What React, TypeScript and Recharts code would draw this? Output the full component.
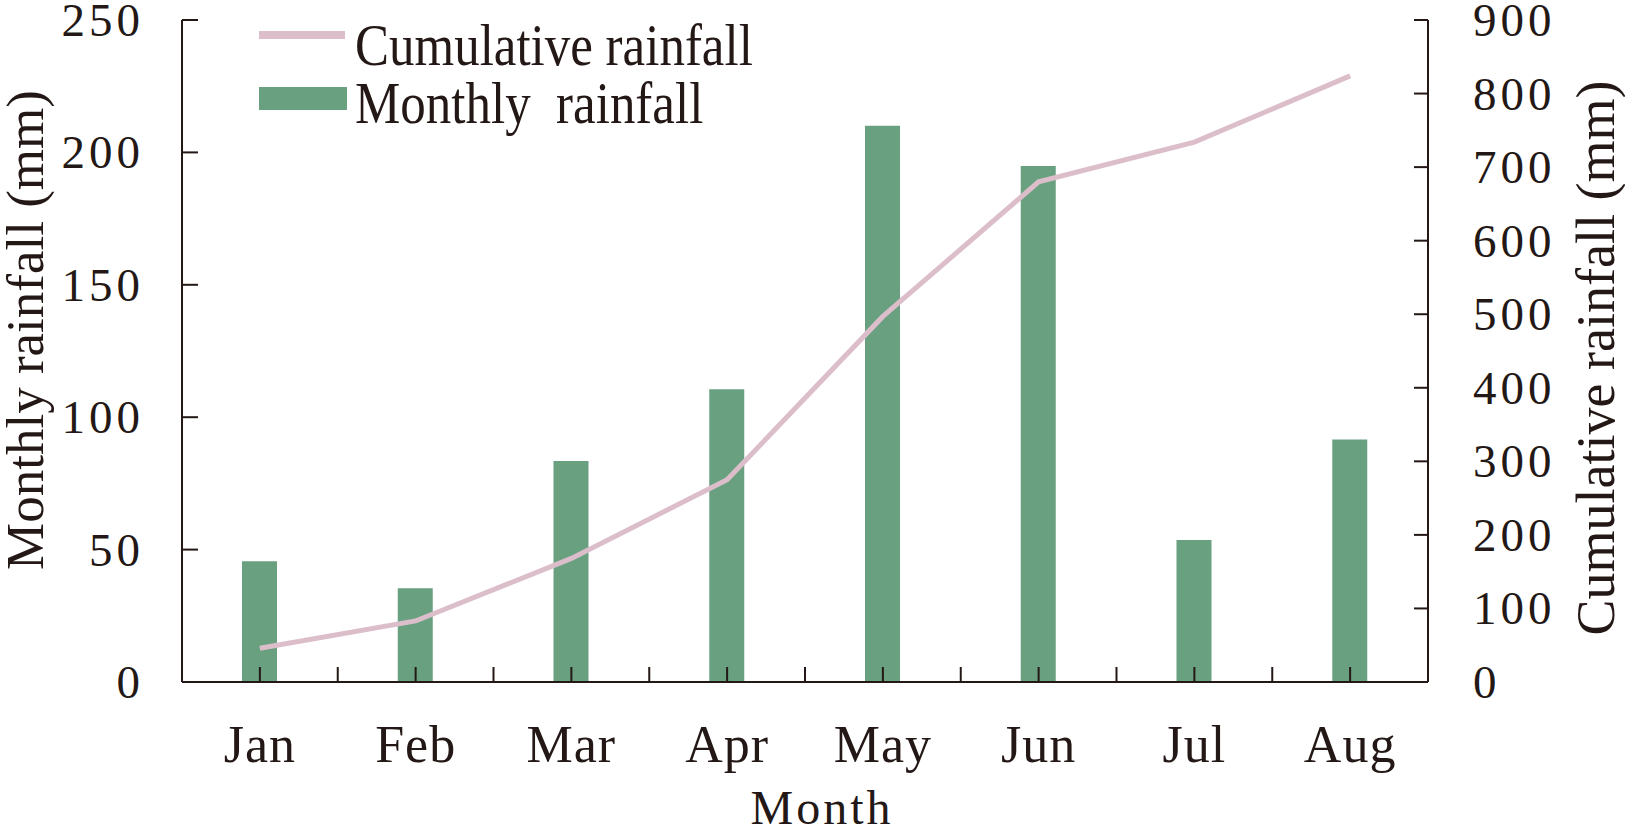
import React from 'react';
import { ComposedChart, Bar, Line, XAxis, YAxis, Legend, Label } from 'recharts';

// ---------- data ----------
const months = ['Jan', 'Feb', 'Mar', 'Apr', 'May', 'Jun', 'Jul', 'Aug'];
const monthlyRainfall = [45.6, 35.4, 83.5, 110.6, 210.1, 194.9, 53.6, 91.6];
const cumulativeRainfall = [46, 83, 168, 275, 497, 680, 734, 824];
const leftTicks = [0, 50, 100, 150, 200, 250];
const rightTicks = [0, 100, 200, 300, 400, 500, 600, 700, 800, 900];

const data = months.map((m, i) => ({
  month: m,
  monthly: monthlyRainfall[i],
  cumulative: cumulativeRainfall[i],
}));

// ---------- style ----------
const INK = '#231815';
const BAR = '#68a080';
const LINE = '#dcbeca';
const FONT = "'Liberation Serif', 'Times New Roman', serif";
const X_TICK_LEN = 15;
const L_TICK_LEN = 16;
const R_TICK_LEN = 14;
const L_GAP = 42; // axis line -> right edge of left tick labels
const R_GAP = 45; // axis line -> left edge of right tick labels

// left tick: label outside, tick mark drawn inward from the axis line
const YTickLeft = (props: any) => {
  const { x, y, payload } = props;
  const ax = x + L_GAP;
  return (
    <g>
      <line x1={ax} x2={ax + L_TICK_LEN} y1={y} y2={y} stroke={INK} strokeWidth={2} />
      <text x={x + 4} y={y} dy="0.34em" textAnchor="end" fontFamily={FONT} fontSize={47} letterSpacing={4} fill={INK}>
        {payload.value}
      </text>
    </g>
  );
};

const YTickRight = (props: any) => {
  const { x, y, payload } = props;
  const ax = x - R_GAP;
  return (
    <g>
      <line x1={ax} x2={ax - R_TICK_LEN} y1={y} y2={y} stroke={INK} strokeWidth={2} />
      <text x={x} y={y} dy="0.34em" textAnchor="start" fontFamily={FONT} fontSize={47} letterSpacing={4} fill={INK}>
        {payload.value}
      </text>
    </g>
  );
};

// month label plus inward tick marks at the category centre and its left boundary
const XTick = (props: any) => {
  const { x, y, payload, width, visibleTicksCount } = props;
  const half =
    payload && typeof payload.offset === 'number' && payload.offset > 0
      ? payload.offset
      : width / (2 * (visibleTicksCount || 8));
  const cx = payload.coordinate ?? x;
  return (
    <g>
      <line x1={cx} x2={cx} y1={y} y2={y - X_TICK_LEN} stroke={INK} strokeWidth={2} />
      <line x1={cx - half} x2={cx - half} y1={y} y2={y - X_TICK_LEN} stroke={INK} strokeWidth={2} />
      <text x={x} y={y + 80} textAnchor="middle" fontFamily={FONT} fontSize={52} letterSpacing={1} fill={INK}>
        {payload.value}
      </text>
    </g>
  );
};

const LegendContent = (props: any) => {
  const payload: any[] = props.payload || [];
  const lineItem = payload.find((p) => p.dataKey === 'cumulative');
  const barItem = payload.find((p) => p.dataKey === 'monthly');
  return (
    <svg width={780} height={140} style={{ display: 'block', overflow: 'visible' }}>
      {lineItem && (
        <g>
          <line x1={259} x2={345} y1={35} y2={35} stroke={lineItem.color} strokeWidth={8} />
          <text transform="translate(355,65) scale(1,1.15)" fontFamily={FONT} fontSize={51} fill={INK} style={{ whiteSpace: 'pre' }}>
            {lineItem.value}
          </text>
        </g>
      )}
      {barItem && (
        <g>
          <rect x={259} y={87} width={88} height={23} fill={barItem.color} />
          <text transform="translate(355,123) scale(1,1.15)" fontFamily={FONT} fontSize={51} fill={INK} style={{ whiteSpace: 'pre' }}>
            {barItem.value}
          </text>
        </g>
      )}
    </svg>
  );
};

export default function App() {
  return (
    <div style={{ position: 'absolute', left: 0, top: 0, width: 1625, height: 830 }}>
      <ComposedChart width={1625} height={830} data={data} margin={{ top: 20, right: 0, bottom: 0, left: 0 }}>
        <XAxis
          xAxisId="cat"
          dataKey="month"
          type="category"
          height={148}
          tickLine={false}
          tickSize={0}
          tickMargin={0}
          axisLine={{ stroke: INK, strokeWidth: 2 }}
          tick={<XTick />}
          interval={0}
        >
          <Label
            content={() => (
              <text x={822} y={824} textAnchor="middle" fontFamily={FONT} fontSize={48} letterSpacing={3} fill={INK}>
                Month
              </text>
            )}
          />
        </XAxis>
        <YAxis
          yAxisId="left"
          orientation="left"
          width={182}
          domain={[0, 250]}
          ticks={leftTicks}
          allowDataOverflow
          tickSize={0}
          tickMargin={L_GAP}
          tickLine={false}
          axisLine={{ stroke: INK, strokeWidth: 2 }}
          tick={<YTickLeft />}
        >
          <Label
            content={() => (
              <text
                transform="translate(25,330) rotate(-90)"
                dy="0.33em"
                textAnchor="middle"
                fontFamily={FONT}
                fontSize={53}
                fill={INK}
              >
                Monthly rainfall (mm)
              </text>
            )}
          />
        </YAxis>
        <YAxis
          yAxisId="right"
          orientation="right"
          width={197}
          domain={[0, 900]}
          ticks={rightTicks}
          allowDataOverflow
          tickSize={0}
          tickMargin={R_GAP}
          tickLine={false}
          axisLine={{ stroke: INK, strokeWidth: 2 }}
          tick={<YTickRight />}
        >
          <Label
            content={() => (
              <text
                transform="translate(1596,358) rotate(-90)"
                dy="0.33em"
                textAnchor="middle"
                fontFamily={FONT}
                fontSize={54}
                fill={INK}
              >
                Cumulative rainfall (mm)
              </text>
            )}
          />
        </YAxis>
        <Legend
          layout="vertical"
          align="center"
          verticalAlign="middle"
          wrapperStyle={{ left: 0, top: 0, width: 780, height: 140 }}
          content={<LegendContent />}
        />
        <Bar
          xAxisId="cat"
          yAxisId="left"
          dataKey="monthly"
          name="Monthly  rainfall"
          fill={BAR}
          barSize={35}
          isAnimationActive={false}
        />
        <Line
          xAxisId="cat"
          yAxisId="right"
          dataKey="cumulative"
          name="Cumulative rainfall"
          type="linear"
          stroke={LINE}
          strokeWidth={5}
          dot={false}
          activeDot={false}
          isAnimationActive={false}
        />
      </ComposedChart>
    </div>
  );
}
